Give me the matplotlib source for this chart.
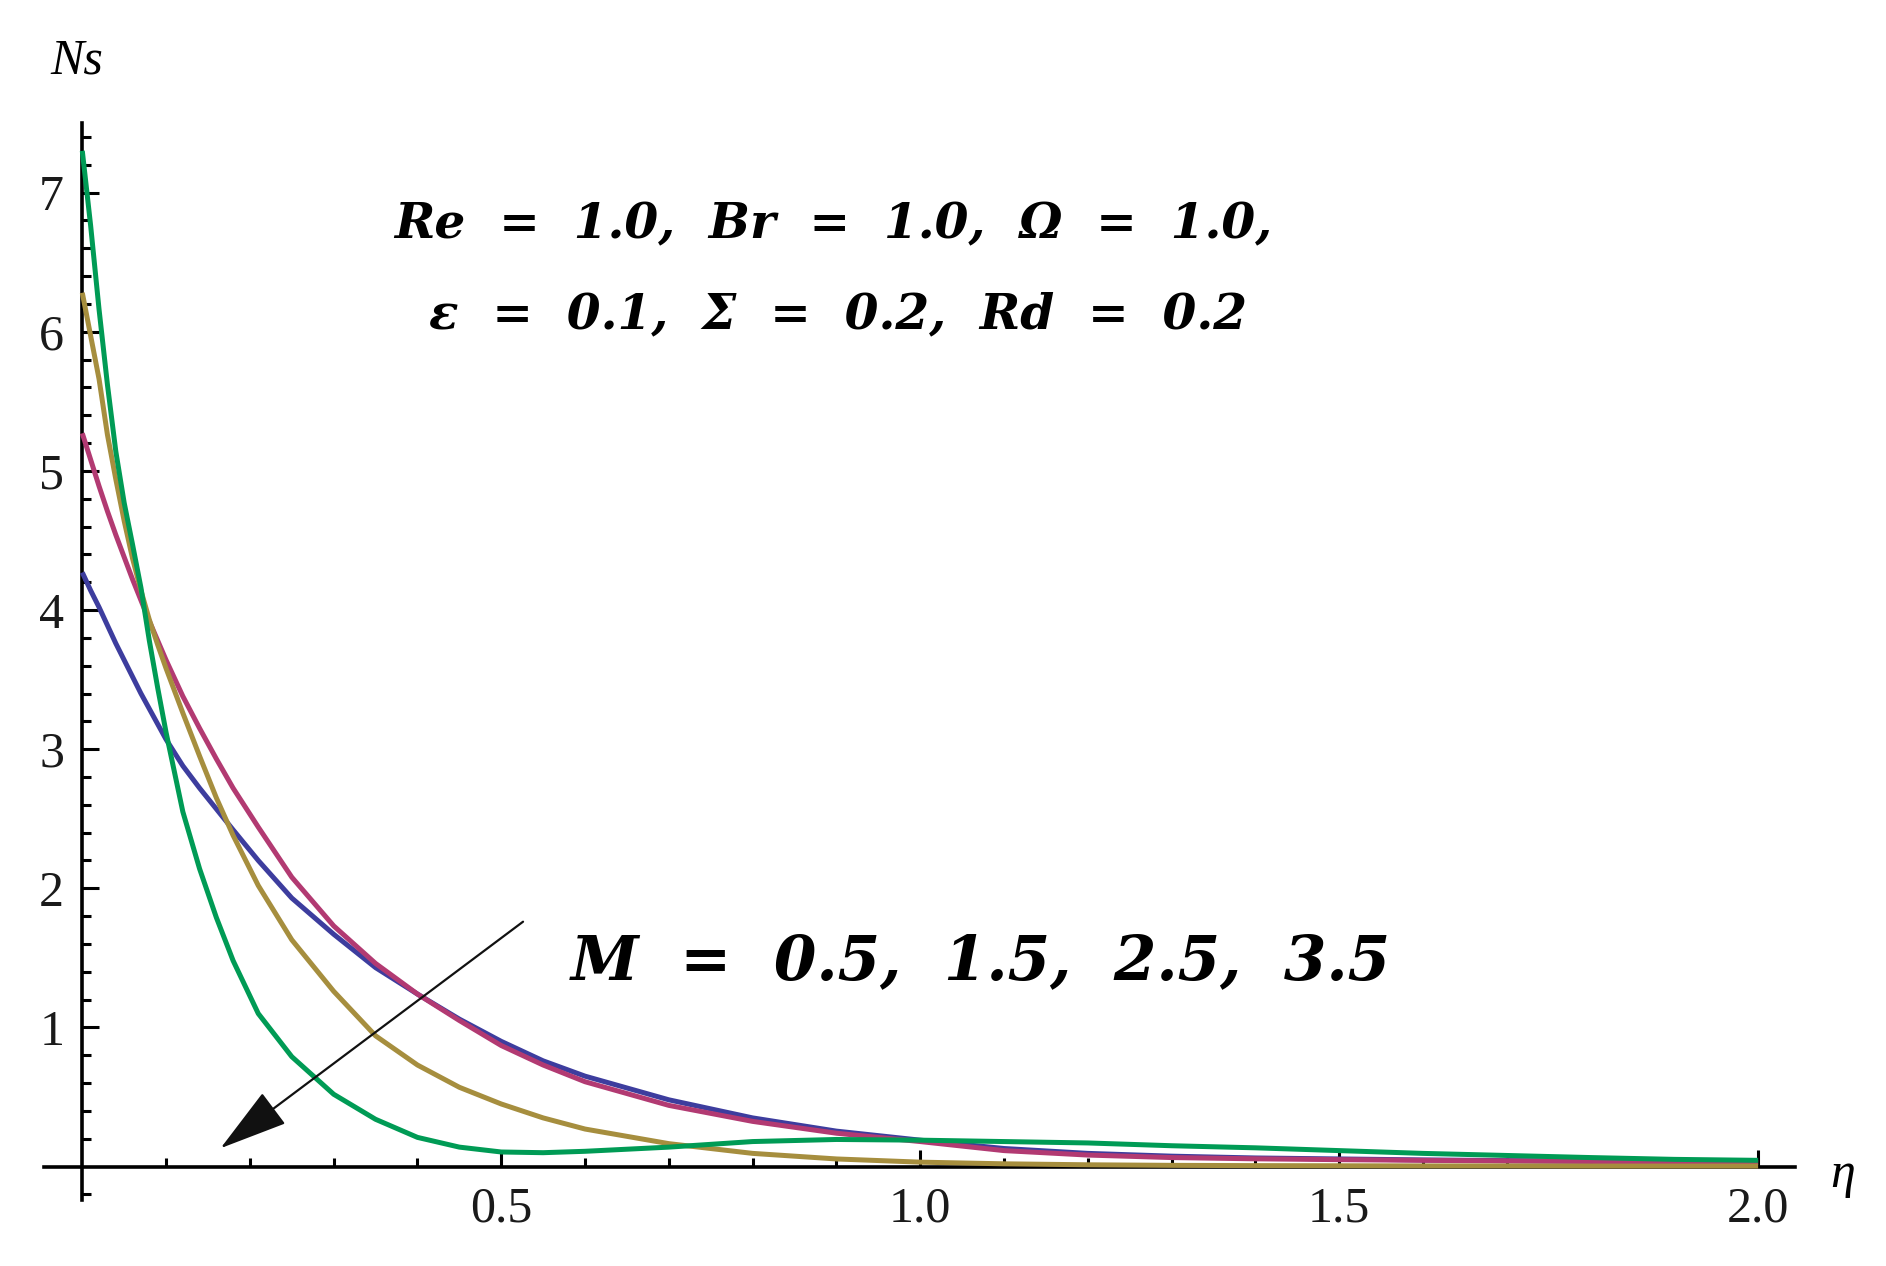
import numpy as np
import matplotlib
matplotlib.use("Agg")
import matplotlib.pyplot as plt
from matplotlib.ticker import FixedLocator, NullFormatter

# ---------------- data ----------------
eta = [0.00, 0.01, 0.02, 0.03, 0.04, 0.05, 0.06, 0.07, 0.08, 0.09, 0.10,
       0.12, 0.14, 0.16, 0.18, 0.21, 0.25, 0.30, 0.35, 0.40, 0.45, 0.50,
       0.55, 0.60, 0.70, 0.80, 0.90, 1.00, 1.10, 1.20, 1.30, 1.40, 1.50,
       1.60, 1.70, 1.80, 1.90, 2.00]

ns_m05 = [4.27, 4.14, 4.02, 3.89, 3.76, 3.64, 3.52, 3.40, 3.29, 3.18, 3.07,
          2.88, 2.72, 2.57, 2.42, 2.20, 1.93, 1.67, 1.43, 1.24, 1.06, 0.90,
          0.76, 0.65, 0.48, 0.35, 0.255, 0.19, 0.13, 0.095, 0.075, 0.062, 0.055,
          0.048, 0.043, 0.039, 0.035, 0.032]

ns_m15 = [5.27, 5.08, 4.89, 4.71, 4.54, 4.38, 4.22, 4.07, 3.92, 3.78, 3.64,
          3.38, 3.15, 2.93, 2.72, 2.44, 2.08, 1.73, 1.46, 1.24, 1.05, 0.87,
          0.73, 0.61, 0.44, 0.325, 0.24, 0.18, 0.115, 0.083, 0.065, 0.056, 0.05,
          0.045, 0.041, 0.037, 0.034, 0.03]

ns_m25 = [6.28, 5.97, 5.66, 5.26, 4.94, 4.64, 4.37, 4.14, 3.93, 3.75, 3.58,
          3.26, 2.95, 2.65, 2.38, 2.02, 1.63, 1.26, 0.94, 0.73, 0.57, 0.45,
          0.35, 0.27, 0.165, 0.095, 0.055, 0.032, 0.02, 0.013, 0.009, 0.007, 0.006,
          0.005, 0.005, 0.004, 0.004, 0.004]

ns_m35 = [7.30, 6.76, 6.16, 5.62, 5.14, 4.77, 4.47, 4.16, 3.78, 3.44, 3.12,
          2.55, 2.14, 1.79, 1.48, 1.10, 0.79, 0.52, 0.34, 0.21, 0.14, 0.105,
          0.10, 0.11, 0.14, 0.18, 0.195, 0.19, 0.18, 0.17, 0.15, 0.135, 0.115,
          0.095, 0.08, 0.065, 0.052, 0.045]

series = [ns_m05, ns_m15, ns_m25, ns_m35]
colors = ["#3d3d9e", "#b23a72", "#a68e3e", "#009b55"]

x_major = [0.5, 1.0, 1.5, 2.0]
x_major_labels = ["0.5", "1.0", "1.5", "2.0"]
y_major = [1, 2, 3, 4, 5, 6, 7]
y_major_labels = ["1", "2", "3", "4", "5", "6", "7"]

params_line1 = "Re  =  1.0,  Br  =  1.0,  \u03a9  =  1.0,"
params_line2 = "\u03b5  =  0.1,  \u03a3  =  0.2,  Rd  =  0.2"
m_label = "M  =  0.5,  1.5,  2.5,  3.5"

arrow_tail = (0.526, 1.76)
arrow_head = (0.165, 0.132)

# ---------------- figure ----------------
W, H = 1886, 1266
fig = plt.figure(figsize=(W / 100, H / 100), dpi=100)
fig.patch.set_facecolor("white")
ax = fig.add_axes([44 / W, 66 / H, 1751 / W, 1077 / H])
ax.set_xlim(-0.0457, 2.044)
ax.set_ylim(-0.24, 7.50)

for s, c in zip(series, colors):
    ax.plot(eta, s, color=c, lw=3.6, solid_capstyle="butt",
            solid_joinstyle="round", zorder=3)

# axes in Mathematica style (crossing at origin)
for side in ["top", "right"]:
    ax.spines[side].set_visible(False)
ax.spines["left"].set_position(("data", 0))
ax.spines["bottom"].set_position(("data", 0))
ax.spines["left"].set_linewidth(2.6)
ax.spines["bottom"].set_linewidth(2.6)

ax.xaxis.set_major_locator(FixedLocator(x_major))
ax.set_xticklabels(x_major_labels)
ax.xaxis.set_minor_locator(FixedLocator([i / 10 for i in range(1, 20) if i % 5 != 0]))
ax.yaxis.set_major_locator(FixedLocator(y_major))
ax.set_yticklabels(y_major_labels)
ax.yaxis.set_minor_locator(FixedLocator([round(-0.2 + 0.2 * i, 2) for i in range(0, 39)
                                          if abs(round(-0.2 + 0.2 * i, 2) - round(-0.2 + 0.2 * i)) > 1e-6]))
ax.xaxis.set_minor_formatter(NullFormatter())
ax.yaxis.set_minor_formatter(NullFormatter())

ax.tick_params(which="major", direction="in", length=12.5, width=2.2, color="black",
               labelsize=36, labelcolor="#1a1a1a")
ax.tick_params(which="minor", direction="in", length=6.8, width=2.2, color="black")
ax.tick_params(axis="y", which="major", pad=13)
ax.tick_params(axis="x", which="major", pad=14)
for lab in ax.get_xticklabels() + ax.get_yticklabels():
    lab.set_family("Liberation Serif")

# axis labels
fig.text(77 / W, 1 - 61 / H, "Ns", family="Liberation Serif", style="italic",
         fontsize=36, ha="center", va="center")
fig.text(1843 / W, 1 - 1175 / H, "\u03b7", family="Liberation Serif", style="italic",
         fontsize=36, ha="center", va="center")

# annotations
tkw = dict(family="DejaVu Serif", weight="bold", style="italic", color="black",
           ha="center", va="center")
ax.text(0.896, 6.77, params_line1, fontsize=35, **tkw)
ax.text(0.902, 6.12, params_line2, fontsize=35, **tkw)
ax.text(1.072, 1.47, m_label, fontsize=44, **tkw)

ax.annotate("", xy=arrow_head, xytext=arrow_tail,
            arrowprops=dict(arrowstyle="-|>,head_length=4.4,head_width=1.25",
                            mutation_scale=10, color="#111111", lw=1.6,
                            shrinkA=0, shrinkB=0), zorder=4)

fig.savefig("out.png", dpi=100, facecolor="white")
